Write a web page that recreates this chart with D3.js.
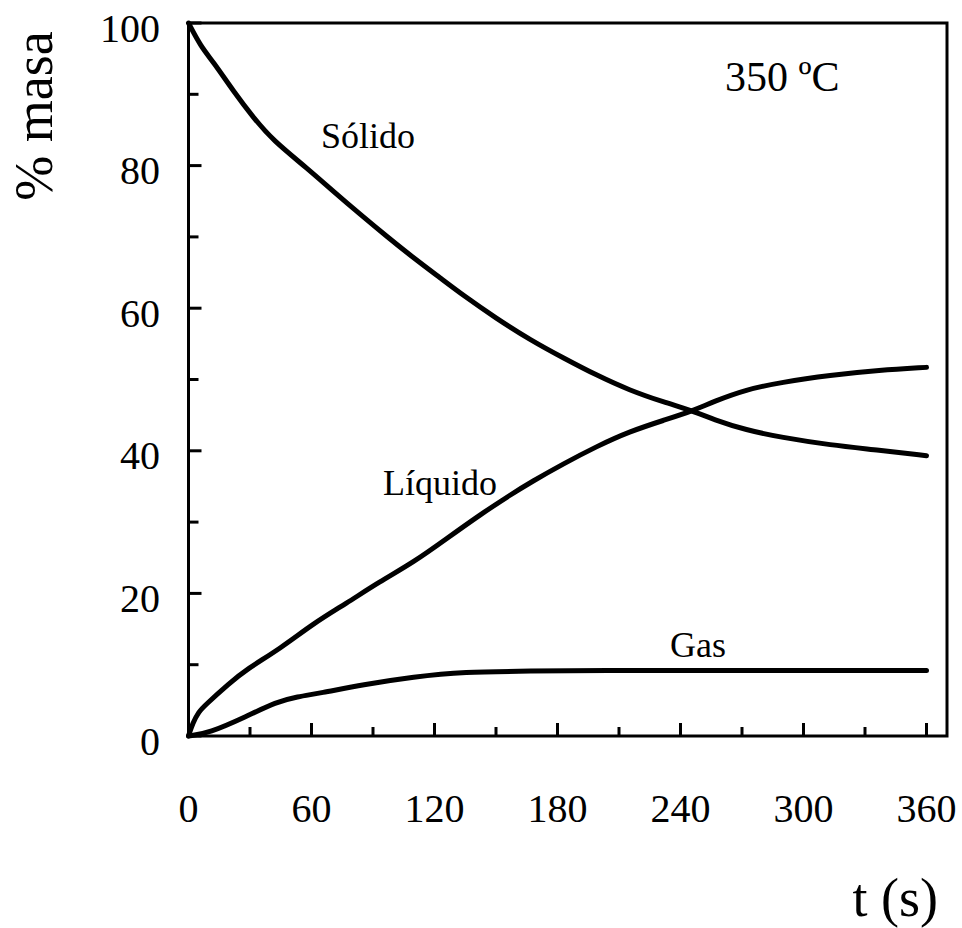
<!DOCTYPE html>
<html>
<head>
<meta charset="utf-8">
<script src="https://cdn.jsdelivr.net/npm/d3@7/dist/d3.min.js"></script>
<style>
  html, body { margin: 0; padding: 0; background: #fff; }
  svg text { font-family: "Liberation Serif", "Times New Roman", serif; fill: #000; }
</style>
</head>
<body>
<svg id="chart" width="962" height="928"></svg>
<script>
// Time (s) and mass fraction (%) of each product at 350 ºC
const solidoT  = [0, 6, 12, 22, 32, 41, 58, 71, 84, 97, 110, 123, 134, 150, 167, 183, 199, 215, 232, 246, 256, 272, 289, 313, 337, 360];
const solidoV  = [100, 96.7, 94.6, 90.4, 86.6, 83.6, 79.6, 76.3, 73.1, 70.0, 67.0, 64.2, 61.8, 58.6, 55.5, 53.0, 50.6, 48.5, 46.8, 45.6, 44.4, 42.9, 41.9, 40.8, 40.1, 39.3];

const liquidoT = [0, 2, 5, 8, 20, 28, 45, 61, 77, 93, 110, 126, 142, 158, 167, 183, 199, 215, 232, 246, 256, 272, 289, 313, 337, 360];
const liquidoV = [0, 1.8, 3.4, 4.3, 7.4, 9.3, 12.3, 15.8, 18.6, 21.6, 24.4, 27.7, 31.0, 34.0, 35.6, 38.2, 40.6, 42.7, 44.3, 45.6, 46.9, 48.6, 49.6, 50.6, 51.3, 51.7];

const gasT     = [0, 10, 28, 43, 53, 64, 85, 110, 134, 167, 200, 260, 360];
const gasV     = [0, 0.4, 2.7, 4.8, 5.5, 6.0, 7.2, 8.3, 9.0, 9.1, 9.2, 9.2, 9.2];

const xTicksMajor = [0, 60, 120, 180, 240, 300, 360];
const xTicksMinor = [30, 90, 150, 210, 270, 330];
const yTicksMajor = [0, 20, 40, 60, 80, 100];
const yTicksMinor = [10, 30, 50, 70, 90];

const svg = d3.select("#chart");

const x = d3.scaleLinear().domain([0, 370]).range([188.5, 947]);
const y = d3.scaleLinear().domain([0, 100]).range([736, 23]);

// Smooth curves through the sampled values
const line = d3.line()
  .x(d => x(d[0]))
  .y(d => y(d[1]))
  .curve(d3.curveBasis);

const series = [
  d3.zip(solidoT, solidoV),
  d3.zip(liquidoT, liquidoV),
  d3.zip(gasT, gasV)
];

svg.append("g")
  .selectAll("path")
  .data(series)
  .join("path")
  .attr("d", line)
  .attr("fill", "none")
  .attr("stroke", "#000")
  .attr("stroke-width", 5)
  .attr("stroke-linecap", "round")
  .attr("stroke-linejoin", "round");

// Frame
svg.append("rect")
  .attr("x", x(0)).attr("y", y(100))
  .attr("width", x(370) - x(0)).attr("height", y(0) - y(100))
  .attr("fill", "none").attr("stroke", "#000").attr("stroke-width", 3);

// Inner tick marks
const ticks = svg.append("g").attr("stroke", "#000").attr("stroke-width", 3);
ticks.selectAll(".xmaj").data(xTicksMajor).join("line")
  .attr("x1", d => x(d)).attr("x2", d => x(d))
  .attr("y1", y(0)).attr("y2", y(0) - 13);
ticks.selectAll(".xmin").data(xTicksMinor).join("line")
  .attr("x1", d => x(d)).attr("x2", d => x(d))
  .attr("y1", y(0)).attr("y2", y(0) - 9);
ticks.selectAll(".ymaj").data(yTicksMajor).join("line")
  .attr("x1", x(0)).attr("x2", x(0) + 13)
  .attr("y1", d => y(d)).attr("y2", d => y(d));
ticks.selectAll(".ymin").data(yTicksMinor).join("line")
  .attr("x1", x(0)).attr("x2", x(0) + 10)
  .attr("y1", d => y(d)).attr("y2", d => y(d));

// Tick labels
svg.append("g").selectAll("text").data(xTicksMajor).join("text")
  .attr("x", d => x(d)).attr("y", 822)
  .attr("text-anchor", "middle").attr("font-size", 40)
  .text(d => d);
svg.append("g").selectAll("text").data(yTicksMajor).join("text")
  .attr("x", 160).attr("y", d => y(d) + 18.5)
  .attr("text-anchor", "end").attr("font-size", 40)
  .text(d => d);

// Axis titles
svg.append("text")
  .attr("transform", "translate(52,116) rotate(-90)")
  .attr("text-anchor", "middle").attr("font-size", 54)
  .text("% masa");
svg.append("text")
  .attr("x", 938).attr("y", 916)
  .attr("text-anchor", "end").attr("font-size", 54)
  .text("t (s)");

// Annotations
svg.append("text").attr("x", 725).attr("y", 91).attr("font-size", 42).text("350 ºC");
svg.append("text").attr("x", 321).attr("y", 148).attr("font-size", 36).text("Sólido");
svg.append("text").attr("x", 383).attr("y", 495).attr("font-size", 36).text("Líquido");
svg.append("text").attr("x", 670).attr("y", 657).attr("font-size", 36).text("Gas");
</script>
</body>
</html>
